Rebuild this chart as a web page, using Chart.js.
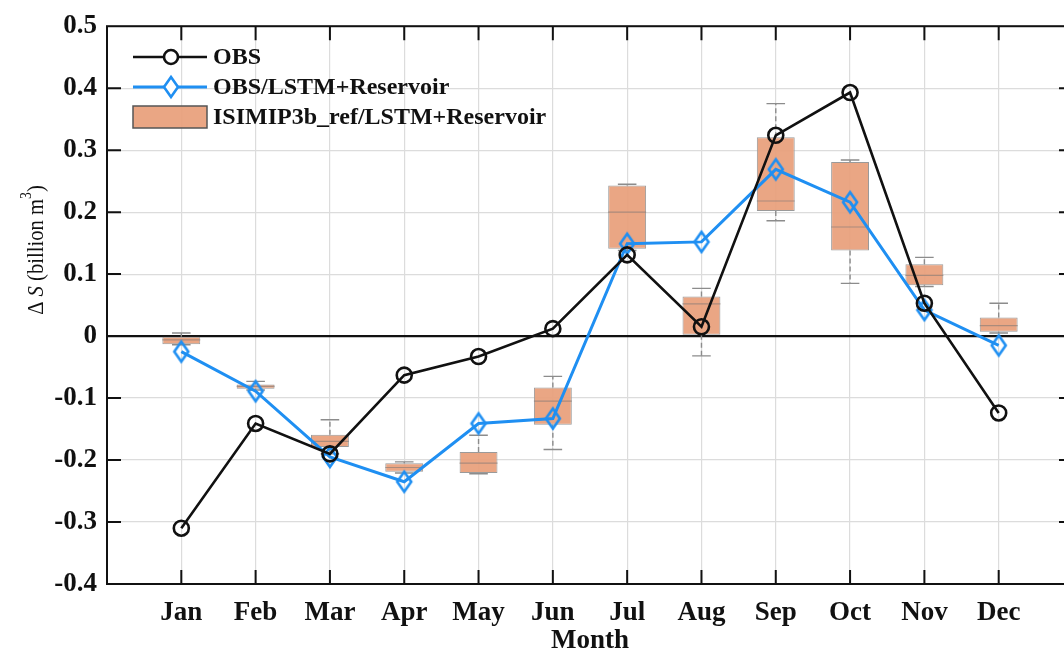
<!DOCTYPE html>
<html>
<head>
<meta charset="utf-8">
<script src="https://cdn.jsdelivr.net/npm/chart.js@4/dist/chart.umd.min.js"></script>
<style>
  html, body { margin: 0; padding: 0; background: #fff; overflow: hidden; }
  #wrap { width: 1090px; height: 655px; }
</style>
</head>
<body>
<div id="wrap"><canvas id="chart" width="1090" height="655"></canvas></div>
<script>
// Monthly storage change, billion m^3
const months = ['Jan', 'Feb', 'Mar', 'Apr', 'May', 'Jun', 'Jul', 'Aug', 'Sep', 'Oct', 'Nov', 'Dec'];
const obs      = [-0.310, -0.141, -0.190, -0.063, -0.033, 0.012, 0.131, 0.015, 0.324, 0.393, 0.053, -0.124];
const obsLstm  = [-0.025, -0.089, -0.195, -0.235, -0.141, -0.133, 0.149, 0.152, 0.269, 0.216, 0.042, -0.015];

// ISIMIP3b_ref/LSTM+Reservoir ensemble spread
const boxMin    = [-0.014, -0.087, -0.190, -0.221, -0.222, -0.183, 0.138, -0.032, 0.186, 0.085, 0.080, 0.005];
const boxQ1     = [-0.013, -0.085, -0.179, -0.219, -0.221, -0.143, 0.141,  0.002, 0.202, 0.138, 0.082, 0.007];
const boxMedian = [-0.006, -0.081, -0.170, -0.212, -0.205, -0.105, 0.200,  0.052, 0.218, 0.176, 0.098, 0.017];
const boxQ3     = [-0.001, -0.078, -0.159, -0.205, -0.187, -0.083, 0.243,  0.064, 0.321, 0.281, 0.116, 0.030];
const boxMax    = [ 0.005, -0.073, -0.135, -0.203, -0.160, -0.065, 0.245,  0.077, 0.375, 0.284, 0.127, 0.053];

const yMin = -0.4, yMax = 0.5, yStep = 0.1;

const SERIF = "'Liberation Serif', 'Times New Roman', serif";
const BLACK = '#111111';
const BLUE = '#1f8ff2';
const BOX_FILL = 'rgba(232,158,122,0.92)';
const BOX_EDGE = '#9a9a9a';
const WHISKER = '#8c8c8c';

function diamondImage(w, h, color, lw) {
  const c = document.createElement('canvas');
  c.width = Math.ceil(w + lw * 2);
  c.height = Math.ceil(h + lw * 2);
  const g = c.getContext('2d');
  const cx = c.width / 2, cy = c.height / 2;
  g.strokeStyle = color;
  g.lineWidth = lw;
  g.lineJoin = 'miter';
  g.beginPath();
  g.moveTo(cx, cy - h / 2);
  g.lineTo(cx + w / 2, cy);
  g.lineTo(cx, cy + h / 2);
  g.lineTo(cx - w / 2, cy);
  g.closePath();
  g.stroke();
  return c;
}
const diamond = diamondImage(14, 20, BLUE, 2.6);

// whiskers, caps and medians drawn right after the boxes, under the lines
const boxDetails = {
  id: 'boxDetails',
  afterDatasetDraw(chart, args) {
    if (args.index !== 0) return;
    const { ctx, scales: { x, y } } = chart;
    const unit = x.getPixelForValue(1) - x.getPixelForValue(0);
    const capHalf = unit * 0.125;
    const boxHalf = unit * 0.255;
    ctx.save();
    months.forEach((m, i) => {
      const px = x.getPixelForValue(i + 1);
      ctx.strokeStyle = WHISKER;
      ctx.lineWidth = 1.4;
      ctx.setLineDash([5, 3]);
      ctx.beginPath();
      ctx.moveTo(px, y.getPixelForValue(boxQ3[i]));
      ctx.lineTo(px, y.getPixelForValue(boxMax[i]));
      ctx.moveTo(px, y.getPixelForValue(boxQ1[i]));
      ctx.lineTo(px, y.getPixelForValue(boxMin[i]));
      ctx.stroke();
      ctx.setLineDash([]);
      ctx.beginPath();
      [boxMax[i], boxMin[i]].forEach(v => {
        const py = y.getPixelForValue(v);
        ctx.moveTo(px - capHalf, py);
        ctx.lineTo(px + capHalf, py);
      });
      ctx.stroke();
      ctx.strokeStyle = 'rgba(150,130,120,0.75)';
      ctx.lineWidth = 1.2;
      ctx.beginPath();
      const pm = y.getPixelForValue(boxMedian[i]);
      ctx.moveTo(px - boxHalf, pm);
      ctx.lineTo(px + boxHalf, pm);
      ctx.stroke();
    });
    ctx.restore();
  }
};

// box frame with inward tick marks
const frame = {
  id: 'frame',
  afterDatasetsDraw(chart) {
    const { ctx, chartArea: a, scales: { x, y } } = chart;
    ctx.save();
    ctx.strokeStyle = BLACK;
    ctx.lineWidth = 2;
    ctx.strokeRect(a.left, a.top, a.right - a.left, a.bottom - a.top);
    const tl = 14;
    ctx.lineWidth = 2;
    ctx.beginPath();
    for (let i = 1; i <= months.length; i++) {
      const px = x.getPixelForValue(i);
      ctx.moveTo(px, a.bottom); ctx.lineTo(px, a.bottom - tl);
      ctx.moveTo(px, a.top); ctx.lineTo(px, a.top + tl);
    }
    for (let v = yMin + yStep; v < yMax - 1e-9; v += yStep) {
      const py = y.getPixelForValue(v);
      ctx.moveTo(a.left, py); ctx.lineTo(a.left + tl, py);
      ctx.moveTo(a.right, py); ctx.lineTo(a.right - tl, py);
    }
    ctx.stroke();
    ctx.restore();
  }
};

// legend in the upper-left corner of the plot
const legendBox = {
  id: 'legendBox',
  afterDraw(chart) {
    const { ctx } = chart;
    const x0 = 133, x1 = 207, xm = 171, tx = 213;
    const rows = [57, 87, 117];
    ctx.save();
    ctx.lineWidth = 2.6;
    ctx.strokeStyle = BLACK;
    ctx.beginPath(); ctx.moveTo(x0, rows[0]); ctx.lineTo(x1, rows[0]); ctx.stroke();
    ctx.fillStyle = '#fff';
    ctx.beginPath(); ctx.arc(xm, rows[0], 7, 0, Math.PI * 2); ctx.fill(); ctx.stroke();
    ctx.strokeStyle = BLUE;
    ctx.lineWidth = 3;
    ctx.beginPath(); ctx.moveTo(x0, rows[1]); ctx.lineTo(x1, rows[1]); ctx.stroke();
    ctx.fillStyle = '#fff';
    ctx.beginPath();
    ctx.moveTo(xm, rows[1] - 10); ctx.lineTo(xm + 7, rows[1]); ctx.lineTo(xm, rows[1] + 10); ctx.lineTo(xm - 7, rows[1]);
    ctx.closePath(); ctx.fill();
    ctx.drawImage(diamond, xm - diamond.width / 2, rows[1] - diamond.height / 2);
    ctx.fillStyle = BOX_FILL;
    ctx.fillRect(x0, rows[2] - 11, x1 - x0, 22);
    ctx.strokeStyle = '#555';
    ctx.lineWidth = 1.5;
    ctx.strokeRect(x0, rows[2] - 11, x1 - x0, 22);
    ctx.fillStyle = BLACK;
    ctx.font = 'bold 24px ' + SERIF;
    ctx.textBaseline = 'middle';
    ctx.textAlign = 'left';
    ctx.fillText('OBS', tx, rows[0] + 1);
    ctx.fillText('OBS/LSTM+Reservoir', tx, rows[1] + 1);
    ctx.fillText('ISIMIP3b_ref/LSTM+Reservoir', tx, rows[2] + 1);
    ctx.restore();
  }
};

// axis titles
const axisTitles = {
  id: 'axisTitles',
  afterDraw(chart) {
    const { ctx } = chart;
    ctx.save();
    ctx.fillStyle = BLACK;
    ctx.font = 'bold 27px ' + SERIF;
    ctx.textAlign = 'center';
    ctx.textBaseline = 'middle';
    ctx.fillText('Month', 590, 641);

    const size = 24;
    const parts = [
      { t: '\u0394 ', f: size + 'px ' + SERIF, dy: 0 },
      { t: 'S', f: 'italic ' + size + 'px ' + SERIF, dy: 0 },
      { t: ' (billion m', f: size + 'px ' + SERIF, dy: 0 },
      { t: '3', f: Math.round(size * 0.65) + 'px ' + SERIF, dy: -size * 0.42 },
      { t: ')', f: size + 'px ' + SERIF, dy: 0 }
    ];
    let total = 0;
    parts.forEach(p => { ctx.font = p.f; p.w = ctx.measureText(p.t).width; total += p.w; });
    ctx.translate(37, 250);
    ctx.rotate(-Math.PI / 2);
    ctx.scale(0.86, 1);
    ctx.textAlign = 'left';
    let cx = -total / 2;
    parts.forEach(p => { ctx.font = p.f; ctx.fillText(p.t, cx, p.dy); cx += p.w; });
    ctx.restore();
  }
};

new Chart(document.getElementById('chart'), {
  type: 'line',
  data: {
    datasets: [
      {
        type: 'bar',
        label: 'ISIMIP3b_ref/LSTM+Reservoir',
        data: months.map((m, i) => ({ x: i + 1, y: [boxQ1[i], boxQ3[i]] })),
        backgroundColor: BOX_FILL,
        borderColor: BOX_EDGE,
        borderWidth: 1,
        borderSkipped: false,
        grouped: false,
        barPercentage: 1,
        categoryPercentage: 0.51,
        order: 3
      },
      {
        label: 'OBS/LSTM+Reservoir',
        data: months.map((m, i) => ({ x: i + 1, y: obsLstm[i] })),
        borderColor: BLUE,
        borderWidth: 3,
        pointStyle: diamond,
        pointRadius: 10,
        tension: 0,
        order: 2
      },
      {
        label: 'OBS',
        data: months.map((m, i) => ({ x: i + 1, y: obs[i] })),
        borderColor: BLACK,
        borderWidth: 2.6,
        pointStyle: 'circle',
        pointRadius: 7.5,
        pointBorderWidth: 2.6,
        pointBackgroundColor: 'rgba(0,0,0,0)',
        pointBorderColor: BLACK,
        tension: 0,
        order: 1
      }
    ]
  },
  options: {
    responsive: false,
    devicePixelRatio: 1,
    animation: false,
    layout: { padding: { top: 20, right: 17, left: 0, bottom: 0 } },
    plugins: { legend: { display: false }, tooltip: { enabled: false } },
    scales: {
      x: {
        type: 'linear',
        offset: false,
        min: 0, max: 13,
        afterFit: s => { s.height = 71; },
        border: { display: false },
        grid: { offset: false, color: '#dcdcdc', lineWidth: 1.2, drawTicks: false },
        ticks: {
          stepSize: 1,
          autoSkip: false,
          maxRotation: 0,
          padding: 13,
          color: BLACK,
          font: { family: SERIF, size: 27, weight: 'bold' },
          callback: v => months[v - 1] || ''
        }
      },
      y: {
        min: yMin, max: yMax,
        afterFit: s => { s.width = 107; },
        border: { display: false },
        grid: {
          drawTicks: false,
          color: c => Math.abs(c.tick.value) < 1e-9 ? BLACK : '#dcdcdc',
          lineWidth: c => Math.abs(c.tick.value) < 1e-9 ? 2.2 : 1.2
        },
        ticks: {
          stepSize: yStep,
          padding: 10,
          color: BLACK,
          font: { family: SERIF, size: 27, weight: 'bold' },
          callback: v => {
            const r = Math.round(v * 10) / 10;
            return r === 0 ? '0' : r.toFixed(1);
          }
        }
      }
    }
  },
  plugins: [boxDetails, frame, legendBox, axisTitles]
});
</script>
</body>
</html>
